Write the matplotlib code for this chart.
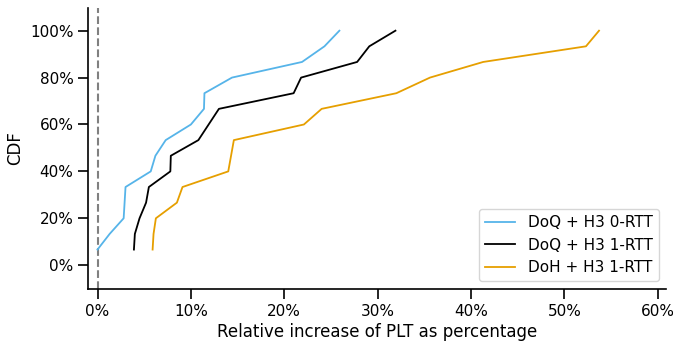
import matplotlib.pyplot as plt
from matplotlib.ticker import PercentFormatter

# CDF levels: 15 samples per configuration
cdf = [k / 15 for k in range(1, 16)]

doq_0rtt = [0.0, 1.3, 2.8, 2.9, 3.0, 5.7, 6.2, 7.3, 10.0, 11.4, 11.45, 14.4, 21.9, 24.3, 25.9]
doq_1rtt = [3.9, 4.0, 4.5, 5.2, 5.5, 7.8, 7.85, 10.8, 11.9, 13.0, 21.0, 21.8, 27.8, 29.1, 31.9]
doh_1rtt = [5.9, 6.0, 6.25, 8.5, 9.1, 14.0, 14.3, 14.6, 22.1, 24.0, 32.0, 35.6, 41.3, 52.3, 53.7]

labels = ["DoQ + H3 0-RTT", "DoQ + H3 1-RTT", "DoH + H3 1-RTT"]
colors = ["#56B4E9", "#000000", "#E69F00"]

plt.rcParams['font.size'] = 11

fig = plt.figure(figsize=(6.73, 3.45), dpi=100)
ax = fig.add_axes([0.131, 0.162, 0.859, 0.815])

ax.axvline(0, color="gray", linestyle="--", linewidth=1.5)
for xs, lab, c in zip([doq_0rtt, doq_1rtt, doh_1rtt], labels, colors):
    ax.plot(xs, cdf, color=c, label=lab, linewidth=1.3)

ax.set_xlim(-1.0, 60.9)
ax.set_ylim(-0.102, 1.097)
ax.set_xticks([0, 10, 20, 30, 40, 50, 60])
ax.set_yticks([0, 0.2, 0.4, 0.6, 0.8, 1.0])
ax.xaxis.set_major_formatter(PercentFormatter(100, decimals=0))
ax.yaxis.set_major_formatter(PercentFormatter(1.0, decimals=0))
ax.spines['top'].set_visible(False)
ax.spines['right'].set_visible(False)
ax.spines['left'].set_linewidth(1.2)
ax.spines['bottom'].set_linewidth(1.2)
ax.tick_params(length=7, width=1.2)

ax.set_xlabel("Relative increase of PLT as percentage", fontsize=12, labelpad=3)
ax.set_ylabel("CDF", fontsize=12)
ax.legend(loc="lower right")

plt.savefig("out.png")
